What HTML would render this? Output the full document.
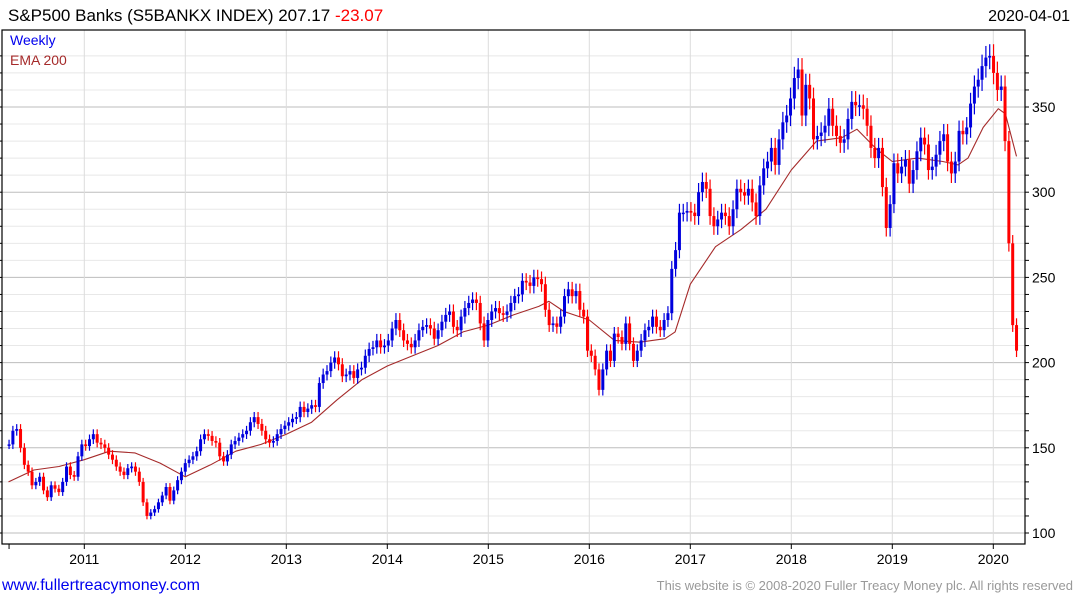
<!DOCTYPE html>
<html><head><meta charset="utf-8">
<style>
body{margin:0;background:#fff;width:1075px;height:600px;overflow:hidden;font-family:"Liberation Sans","DejaVu Sans",sans-serif;}
svg{position:absolute;left:0;top:0;}
</style></head>
<body>
<svg id="chart" width="1075" height="600">
  <text x="8" y="21" font-size="17" fill="#000">S&amp;P500 Banks  (S5BANKX INDEX) 207.17 <tspan fill="#ff0000">-23.07</tspan></text>
  <text x="1070" y="21" font-size="16" fill="#000" text-anchor="end">2020-04-01</text>
  <g id="grid"></g>
  <g id="ema"></g>
  <g id="bars"></g>
  <rect x="2" y="30" width="1023" height="514" fill="none" stroke="#000" stroke-width="1.2"/>
  <g id="axes"></g>
  <text x="10" y="45" font-size="14" fill="#0000ee">Weekly</text>
  <text x="10" y="65" font-size="14" fill="#a52a2a">EMA 200</text>
  <text x="2" y="590" font-size="16" fill="#0000ee">www.fullertreacymoney.com</text>
  <text x="1073" y="590" font-size="13" fill="#999" text-anchor="end">This website is © 2008-2020 Fuller Treacy Money plc. All rights reserved</text>
</svg>
<script>
const closes = [
152,160,161,150,140,136,128,130,133,125,121,128,126,124,130,139,134,133,145,152,151,155,158,153,152,150,146,143,139,136,134,138,139,136,130,118,110,112,114,118,122,127,119,125,131,136,141,143,145,148,155,158,157,154,153,145,142,146,152,154,156,158,160,165,168,164,160,155,153,154,158,161,163,165,167,168,174,171,173,175,
174,188,193,195,200,203,199,192,193,195,191,196,197,204,208,209,213,209,210,213,220,225,219,213,211,209,213,219,221,222,220,214,219,224,228,230,221,219,227,232,235,237,235,223,213,225,230,232,229,228,230,235,239,240,248,247,245,250,249,246,231,222,223,221,227,239,243,239,242,231,227,207,204,196,184,196,207,
201,217,215,211,223,211,201,207,213,219,221,227,221,219,225,229,255,266,288,288,289,288,286,300,306,302,286,280,284,288,286,280,290,302,300,298,302,294,286,304,314,318,326,316,331,341,345,355,367,372,345,363,355,331,333,335,339,349,339,333,329,331,343,353,351,351,349,339,326,320,326,
303,279,293,317,311,315,319,305,313,324,332,328,313,315,322,330,334,318,311,318,336,334,338,352,362,366,374,379,380,370,360,362,330,270,222,207
];
const emaDates = [2010.25,2010.5,2010.75,2011.0,2011.25,2011.5,2011.75,2012.0,2012.25,2012.5,2012.75,2013.0,2013.25,2013.5,2013.75,2014.0,2014.25,2014.5,2014.75,2015.0,2015.25,2015.5,2015.6,2015.75,2016.0,2016.25,2016.5,2016.75,2016.85,2017.0,2017.25,2017.5,2017.75,2018.0,2018.25,2018.5,2018.65,2018.85,2019.0,2019.25,2019.5,2019.65,2019.75,2019.9,2020.05,2020.12,2020.23];
const emaValues = [130,137,139,143,148,147,141,133,140,148,152,158,165,178,190,198,204,210,218,222,228,233,236,230,225,213,212,214,218,246,268,278,290,313,330,332,337,325,318,320,318,316,320,338,349,346,321];
const yearLabels = ["2011","2012","2013","2014","2015","2016","2017","2018","2019","2020"];
const yTickLabels = [100,150,200,250,300,350];

const NS="http://www.w3.org/2000/svg";
const startT=2010.255, endT=2020.23;
function xScale(t){return 84.3+(t-2011)*101;}
function yScale(v){return 533-(v-100)*1.704;}
function mk(tag,attrs,parent){const e=document.createElementNS(NS,tag);for(const k in attrs)e.setAttribute(k,attrs[k]);parent.appendChild(e);return e;}

const grid=document.getElementById('grid');
for(let v=100;v<=380;v+=10){
  const l=mk('line',{x1:2,x2:1025,y1:yScale(v),y2:yScale(v),stroke:(v%50===0)?'#bdbdbd':'#e8e8e8','stroke-width':1},grid);
  
  
}
yearLabels.forEach(y=>{
  const x=xScale(+y);
  const l=mk('line',{x1:x,x2:x,y1:30,y2:544,stroke:'#dcdcdc','stroke-width':1},grid);
  
  
});

const axes=document.getElementById('axes');
for(let v=100;v<=380;v+=10){
  const t=mk('line',{x1:1025,x2:1029,y1:yScale(v),y2:yScale(v),stroke:'#000'},axes);
  
  
  const t2=mk('line',{x1:0,x2:2,y1:yScale(v),y2:yScale(v),stroke:'#000'},axes);
  
  
}
yTickLabels.forEach(v=>{
  const tx=mk('text',{x:1032,y:yScale(v)+5,'font-size':14,fill:'#000'},axes);
  tx.textContent=v;
  
  
});
const t0=mk('line',{x1:xScale(startT),x2:xScale(startT),y1:544,y2:549,stroke:'#000'},axes);


yearLabels.forEach(y=>{
  const x=xScale(+y);
  const t=mk('line',{x1:x,x2:x,y1:544,y2:549,stroke:'#000'},axes);
  
  
  const tx=mk('text',{x:x,y:564,'font-size':14,fill:'#000','text-anchor':'middle'},axes);
  tx.textContent=y;
  
  
});

const ema=document.getElementById('ema');
const pts=emaDates.map((d,i)=>xScale(d).toFixed(1)+','+yScale(emaValues[i]).toFixed(1)).join(' ');
const pl=mk('polyline',{points:pts,fill:'none',stroke:'#a52a2a','stroke-width':1.1,'stroke-linejoin':'round'},ema);



const bars=document.getElementById('bars');
const n=closes.length;
const step=(endT-startT)/(n-1);
for(let i=0;i<n;i++){
  const c=closes[i], o=i>0?closes[i-1]:c;
  const up=c>=o;
  const col=up?'#0000dd':'#ff0000';
  const x=xScale(startT+i*step);
  const hi=Math.max(o,c)*1.018, lo=Math.min(o,c)*0.982;
  const w=mk('line',{x1:x,x2:x,y1:yScale(hi),y2:yScale(lo),stroke:col,'stroke-width':1.2},bars);
  
  
  const top=yScale(Math.max(o,c)), bot=yScale(Math.min(o,c));
  const b=mk('rect',{x:x-1.5,y:top,width:3,height:Math.max(1.5,bot-top),fill:col},bars);
  
  
}
</script>
</body></html>
